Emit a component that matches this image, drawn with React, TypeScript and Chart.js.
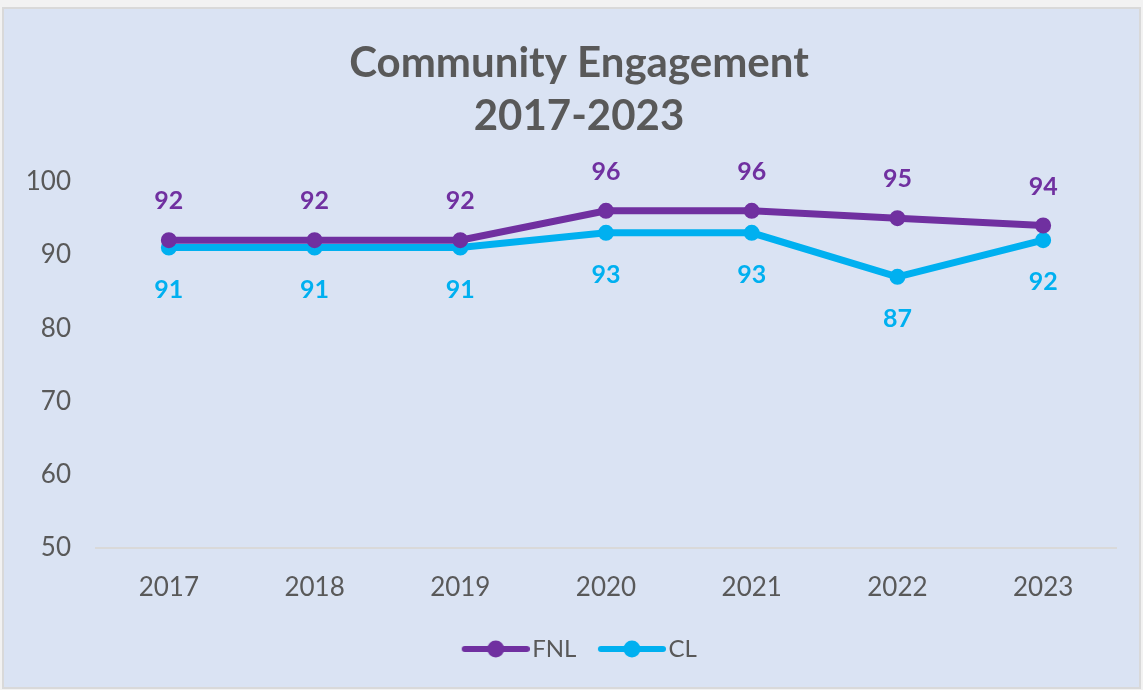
import React, { useEffect, useRef } from "react";
import { Chart, registerables } from "chart.js";

Chart.register(...registerables);

const categories = ["2017", "2018", "2019", "2020", "2021", "2022", "2023"];
const fnlValues = [92, 92, 92, 96, 96, 95, 94];
const clValues = [91, 91, 91, 93, 93, 87, 92];
const seriesNames = ["FNL", "CL"];
const titleLines = ["Community Engagement", "2017-2023"];
const yMin = 50;
const yMax = 100;
const yStep = 10;

const PURPLE = "#7030A0";
const CYAN = "#00B0F0";
const TEXT = "#595959";
const FONT = "Lato, 'Noto Sans', sans-serif";

function legendImage(color: string): HTMLCanvasElement {
  const c = document.createElement("canvas");
  c.width = 78;
  c.height = 20;
  const ctx = c.getContext("2d")!;
  ctx.strokeStyle = color;
  ctx.lineWidth = 6;
  ctx.lineCap = "round";
  ctx.beginPath();
  ctx.moveTo(13, 10);
  ctx.lineTo(75, 10);
  ctx.stroke();
  ctx.fillStyle = color;
  ctx.beginPath();
  ctx.arc(44, 10, 8.5, 0, Math.PI * 2);
  ctx.fill();
  return c;
}

const dataLabelPlugin = {
  id: "dataLabels",
  afterDatasetsDraw(chart: any) {
    const ctx = chart.ctx;
    ctx.save();
    ctx.font = `bold 25px ${FONT}`;
    ctx.textAlign = "center";
    ctx.textBaseline = "middle";
    chart.data.datasets.forEach((ds: any, di: number) => {
      const meta = chart.getDatasetMeta(di);
      ctx.fillStyle = ds.borderColor;
      meta.data.forEach((pt: any, i: number) => {
        const off = di === 0 ? -39 : 42;
        ctx.fillText(String(ds.data[i]), pt.x, pt.y + off);
      });
    });
    ctx.restore();
  },
};

export default function App() {
  const ref = useRef<HTMLCanvasElement>(null);

  useEffect(() => {
    document.body.style.margin = "0";
    const images = [legendImage(PURPLE), legendImage(CYAN)];
    const chart = new Chart(ref.current!, {
      type: "line",
      data: {
        labels: categories,
        datasets: [
          {
            label: seriesNames[0],
            data: fnlValues,
            borderColor: PURPLE,
            backgroundColor: PURPLE,
            borderWidth: 7,
            pointRadius: 7,
            pointBorderWidth: 2,
            pointBackgroundColor: PURPLE,
            pointBorderColor: PURPLE,
            tension: 0,
          },
          {
            label: seriesNames[1],
            data: clValues,
            borderColor: CYAN,
            backgroundColor: CYAN,
            borderWidth: 7,
            pointRadius: 7,
            pointBorderWidth: 2,
            pointBackgroundColor: CYAN,
            pointBorderColor: CYAN,
            tension: 0,
          },
        ],
      },
      options: {
        animation: false,
        responsive: false,
        maintainAspectRatio: false,
        layout: { padding: { left: 15, right: 0, top: 10, bottom: 19 } },
        plugins: {
          title: {
            display: true,
            text: titleLines,
            color: TEXT,
            font: { family: FONT, size: 42, weight: "bold", lineHeight: 1.26 },
            padding: { top: 27, bottom: 38.7 },
          },
          legend: {
            display: true,
            position: "bottom",
            labels: {
              usePointStyle: true,
              pointStyleWidth: 59,
              padding: 21,
              color: TEXT,
              font: { family: FONT, size: 24 },
              generateLabels: (c: any) =>
                (Chart.defaults.plugins.legend.labels.generateLabels as any)(c).map(
                  (l: any, i: number) => ({ ...l, pointStyle: images[i], fontColor: TEXT })
                ),
            },
          },
          tooltip: { enabled: false },
        },
        scales: {
          x: {
            offset: true,
            grid: { display: false, drawTicks: false },
            border: { display: true, color: "#D9D9D9", width: 2 },
            ticks: { color: TEXT, font: { family: FONT, size: 26 }, padding: 24 },
            afterFit: (s: any) => {
              s.height = 68;
            },
          },
          y: {
            min: yMin,
            max: yMax,
            grid: { display: false, drawTicks: false },
            border: { display: false },
            ticks: { stepSize: yStep, color: TEXT, font: { family: FONT, size: 26 }, padding: 25 },
            afterFit: (s: any) => {
              s.width = 81;
            },
          },
          yRight: {
            position: "right",
            display: true,
            min: yMin,
            max: yMax,
            grid: { display: false, drawTicks: false },
            border: { display: false },
            ticks: { display: false },
            afterFit: (s: any) => {
              s.width = 27;
            },
          },
        },
      },
      plugins: [dataLabelPlugin],
    } as any);
    return () => chart.destroy();
  }, []);

  return (
    <div style={{ position: "relative", width: 1143, height: 690, background: "#F2F2F2" }}>
      <div
        style={{
          position: "absolute",
          left: 2,
          top: 7,
          width: 1135,
          height: 678,
          background: "#DAE3F3",
          border: "2px solid #D9D9D9",
        }}
      />
      <canvas ref={ref} width={1143} height={690} style={{ position: "absolute", left: 0, top: 0 }} />
    </div>
  );
}
